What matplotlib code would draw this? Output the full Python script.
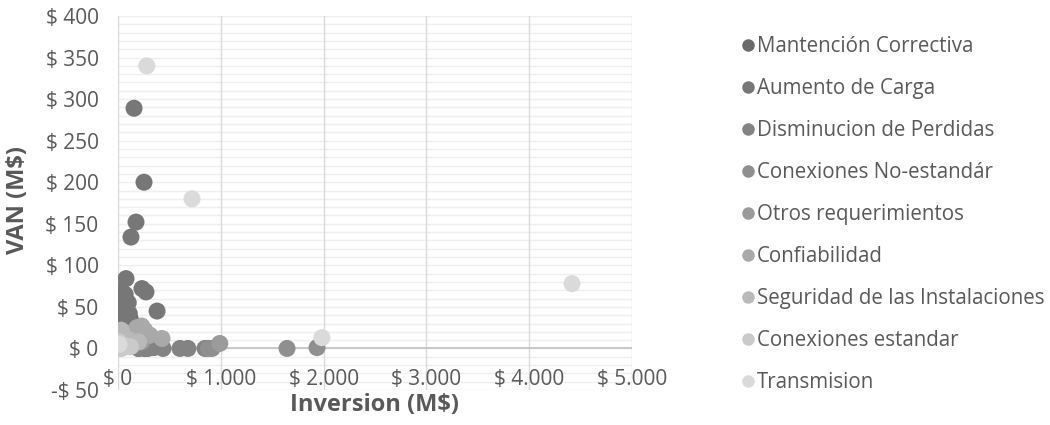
import matplotlib
matplotlib.use("Agg")
import matplotlib.pyplot as plt
from matplotlib.lines import Line2D
import numpy as np

plt.rcParams['font.family'] = ['Open Sans', 'DejaVu Sans']

# Project portfolio: investment (M$) vs net present value (M$) by category
series_names = [
    "Mantención Correctiva",
    "Aumento de Carga",
    "Disminucion de Perdidas",
    "Conexiones No-estandár",
    "Otros requerimientos",
    "Confiabilidad",
    "Seguridad de las Instalaciones",
    "Conexiones estandar",
    "Transmision",
]
series_colors = ["#6b6b6b", "#777777", "#838383", "#8f8f8f", "#9b9b9b",
                 "#a9a9a9", "#b9b9b9", "#cacaca", "#dadada"]

mantencion_x = [30, 60, 100, 20, 150, 120, 80, 40, 10, 200, 260]
mantencion_y = [45, 30, 20, 15, 5, 35, 50, 55, 38, 0, 0]

aumento_x = [156, 253, 175, 126, 78, 233, 272, 380, 49, 19, 0, 100, 40, 90, 60, 120, 20, 70, 110, 30]
aumento_y = [289, 200, 152, 134, 84, 72, 68, 45, 60, 46, 43, 55, 50, 40, 35, 30, 31, 65, 42, 70]

disminucion_x = [438, 292, 200, 603, 680, 846, 250, 350]
disminucion_y = [0, 0, 0, 0, 0, 0, 2, 1]

noestandar_x = [1644, 1936, 915, 880]
noestandar_y = [0, 1, 0, 0]

otros_x = [990, 140, 230]
otros_y = [6, 3, 8]

confiabilidad_x = [185, 230, 311, 428, 150, 260]
confiabilidad_y = [25, 27, 16, 12, 20, 22]

seguridad_x = [19, 0, 60, 110, 200, 30]
seguridad_y = [19, 10, 14, 10, 8, 22]

estandar_x = [0, 20, 50, 80, 10, 30, 120, 5]
estandar_y = [0, 2, 1, 3, 8, 0, 2, 4]

transmision_x = [280, 720, 4416, 1984, 10]
transmision_y = [340, 180, 78, 13, 5]

series_x = [mantencion_x, aumento_x, disminucion_x, noestandar_x, otros_x,
            confiabilidad_x, seguridad_x, estandar_x, transmision_x]
series_y = [mantencion_y, aumento_y, disminucion_y, noestandar_y, otros_y,
            confiabilidad_y, seguridad_y, estandar_y, transmision_y]

x_ticks = [0, 1000, 2000, 3000, 4000, 5000]
x_tick_labels = ["$ 0", "$ 1.000", "$ 2.000", "$ 3.000", "$ 4.000", "$ 5.000"]
y_ticks = [-50, 0, 50, 100, 150, 200, 250, 300, 350, 400]
y_tick_labels = ["-$ 50", "$ 0", "$ 50", "$ 100", "$ 150", "$ 200",
                 "$ 250", "$ 300", "$ 350", "$ 400"]

fig = plt.figure(figsize=(10.5, 4.25), dpi=100)
ax = fig.add_axes([118 / 1050, 1 - 390 / 425, (632 - 118) / 1050, (390 - 16) / 425])

ax.set_xlim(0, 5000)
ax.set_ylim(-50, 400)

# light horizontal grid every 10, vertical grid every 1000
for yv in np.arange(-50, 401, 10):
    ax.axhline(yv, color="#efefef", lw=1.0, zorder=0)
for xv in x_ticks:
    ax.axvline(xv, color="#d9d9d9", lw=1.0, zorder=0.5)
ax.axhline(0, color="#bfbfbf", lw=1.2, zorder=0.6)

for sp in ax.spines.values():
    sp.set_visible(False)

text_color = "#595959"
fs = 15
ax.set_yticks(y_ticks)
ax.set_yticklabels(y_tick_labels, fontsize=fs, color=text_color)
ax.tick_params(axis="y", length=0, pad=14)
ax.set_xticks([])
for xv, lab in zip(x_ticks, x_tick_labels):
    ax.text(xv, -37, lab, ha="center", va="center", fontsize=fs, color=text_color, zorder=1)

for name, col, xs, ys in zip(series_names, series_colors, series_x, series_y):
    ax.scatter(xs, ys, s=150, color=col, edgecolors="none", label=name, zorder=3)

fig.text(18 / 1050, 1 - 200 / 425, "VAN (M$)", rotation=90, ha="center", va="center",
         fontsize=17, fontweight="bold", color=text_color)
fig.text(375 / 1050, 1 - 405 / 425, "Inversion (M$)", ha="center", va="center",
         fontsize=17, fontweight="bold", color=text_color)

handles = [Line2D([], [], ls="none", marker="o", ms=9, mfc=c, mec="none") for c in series_colors]
leg = fig.legend(handles, series_names, loc="upper left", bbox_to_anchor=(739 / 1050, 1 - 36 / 425),
                 frameon=False, fontsize=14.8, labelcolor=text_color, borderpad=0,
                 handletextpad=0.0, handlelength=0.87, labelspacing=1.02, borderaxespad=0)

fig.savefig("out.png", dpi=100)
